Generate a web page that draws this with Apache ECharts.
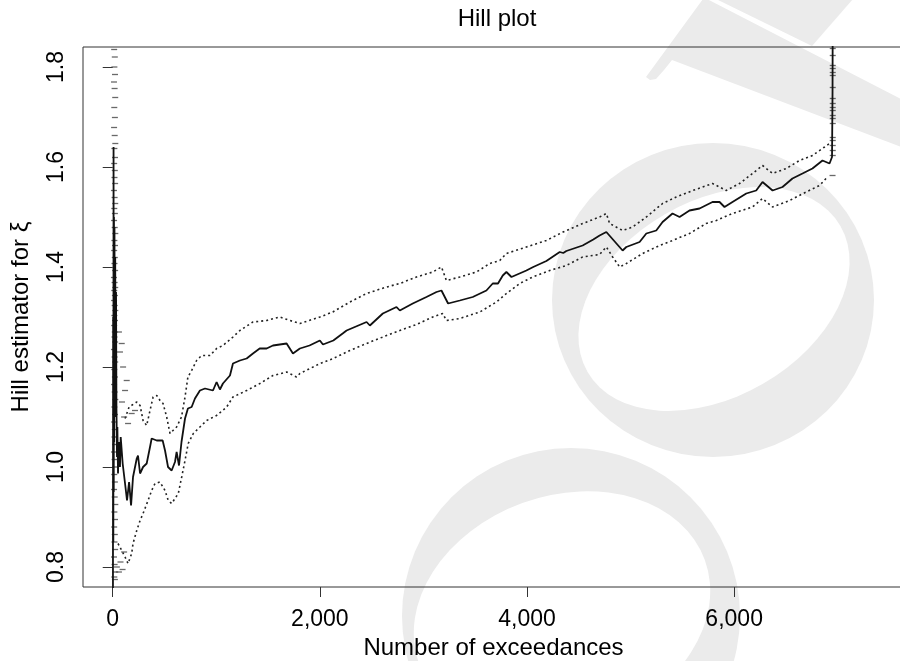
<!DOCTYPE html>
<html>
<head>
<meta charset="utf-8">
<script src="https://cdn.jsdelivr.net/npm/echarts@6/dist/echarts.min.js"></script>
<style>html,body{margin:0;padding:0;background:#fff}#c{width:900px;height:661px}</style>
</head>
<body>
<div id="c"></div>
<script>
// ---- data ----
const xTicks = [0, 2000, 4000, 6000];
const yTicks = [0.8, 1.0, 1.2, 1.4, 1.6, 1.8];

// Hill estimator (solid line): k and xi
const hillK = [2,4,6,8,10,12,14,17,20,24,28,32,36,39,41,45,51,60,70,77,96,119,138,158,177,196,232,244,264,293,328,360,376,425,482,505,534,569,601,617,640,664,698,726,762,794,842,891,968,1003,1035,1064,1132,1161,1228,1293,1354,1419,1486,1547,1679,1740,1807,1900,2000,2030,2130,2220,2258,2451,2483,2608,2740,2772,2897,3029,3126,3174,3238,3351,3476,3608,3669,3720,3766,3801,3850,3994,4060,4187,4316,4350,4380,4537,4640,4701,4766,4779,4923,4959,5087,5152,5248,5309,5405,5473,5569,5666,5791,5859,5907,5984,6117,6213,6274,6371,6467,6563,6660,6756,6853,6921,6945,6950,6955];
const hillXi = [0.70,1.30,0.85,1.64,0.95,1.50,1.05,1.48,1.10,1.42,1.15,1.35,1.12,1.123,1.02,1.08,0.987,1.05,1.00,1.06,1.007,0.967,0.933,0.97,0.923,0.98,1.017,1.023,0.987,1.0,1.007,1.04,1.057,1.053,1.053,1.033,1.0,0.993,1.01,1.03,1.003,1.05,1.097,1.117,1.12,1.137,1.153,1.157,1.153,1.17,1.155,1.167,1.183,1.207,1.213,1.217,1.227,1.237,1.237,1.243,1.247,1.227,1.237,1.243,1.253,1.245,1.253,1.267,1.273,1.29,1.283,1.307,1.32,1.313,1.327,1.34,1.35,1.353,1.327,1.333,1.34,1.353,1.367,1.367,1.383,1.39,1.38,1.393,1.40,1.412,1.43,1.428,1.432,1.443,1.455,1.463,1.47,1.473,1.433,1.44,1.45,1.467,1.473,1.49,1.507,1.50,1.513,1.517,1.53,1.53,1.52,1.53,1.547,1.553,1.57,1.553,1.56,1.577,1.587,1.597,1.613,1.607,1.62,1.75,2.2];

// upper confidence bound (dotted)
const upperK = [119,158,232,264,293,328,360,390,425,457,486,521,553,582,617,664,698,726,762,810,858,939,1003,1064,1161,1228,1354,1486,1614,1711,1807,2000,2125,2290,2451,2644,2772,2933,3090,3174,3222,3351,3512,3640,3737,3801,3994,4187,4348,4537,4701,4766,4798,4923,5020,5152,5309,5441,5601,5791,5859,5923,6052,6178,6274,6371,6503,6631,6756,6873,6921];
const upperXi = [1.097,1.12,1.13,1.123,1.093,1.083,1.113,1.14,1.143,1.133,1.127,1.10,1.067,1.073,1.08,1.10,1.14,1.18,1.193,1.213,1.223,1.223,1.237,1.243,1.26,1.273,1.29,1.293,1.30,1.293,1.287,1.30,1.31,1.33,1.347,1.36,1.367,1.38,1.39,1.40,1.373,1.38,1.39,1.407,1.413,1.427,1.44,1.453,1.47,1.487,1.50,1.507,1.487,1.473,1.48,1.50,1.527,1.54,1.553,1.567,1.56,1.553,1.567,1.587,1.603,1.587,1.597,1.613,1.623,1.64,1.647];

// lower confidence bound (dotted)
const lowerK = [51,87,119,148,183,196,232,264,293,341,376,408,456,505,536,569,601,633,666,698,729,778,842,907,1003,1100,1161,1293,1421,1547,1679,1775,1807,2003,2128,2290,2451,2608,2772,2933,3090,3187,3222,3351,3544,3705,3801,3930,4055,4219,4380,4537,4701,4766,4827,4895,4959,5116,5280,5405,5569,5730,5828,5984,6177,6274,6371,6535,6695,6824,6901];
const lowerXi = [0.847,0.833,0.82,0.807,0.827,0.847,0.873,0.893,0.907,0.933,0.953,0.967,0.97,0.953,0.933,0.927,0.937,0.947,0.98,1.013,1.047,1.067,1.08,1.093,1.103,1.12,1.14,1.153,1.167,1.183,1.19,1.18,1.187,1.207,1.217,1.233,1.247,1.26,1.273,1.285,1.30,1.307,1.293,1.297,1.31,1.33,1.347,1.367,1.38,1.393,1.403,1.42,1.425,1.44,1.42,1.40,1.407,1.427,1.443,1.453,1.467,1.487,1.493,1.507,1.52,1.537,1.52,1.533,1.55,1.563,1.58];

// stacked bound marks at the smallest k (left spike)
const spikeTickK = [14,20,16,22,12,18,24,15,21,13,19,25,16,22,14,20,17,23,12,18,24,15,21,13,19,25,16,22,14,20,17,23,12,18,24,15,21,13,19,25,16,22,14,20,17,23,12,18,24,15,21,13,19,25,16,22,14,20,17,23,12,18,24,15,21,13,19,25,16,22,14,20,17,23,12,18,24,15,21,60,70,87,90,100,110,119,135,148,183,215,40,60,75,95,110];
const spikeTickXi = [1.835,1.82,1.80,1.785,1.77,1.757,1.739,1.719,1.699,1.679,1.663,1.647,1.637,1.619,1.607,1.593,1.579,1.567,1.553,1.539,1.527,1.517,1.507,1.493,1.479,1.467,1.453,1.443,1.433,1.419,1.407,1.393,1.379,1.369,1.359,1.353,1.343,1.333,1.323,1.313,1.303,1.293,1.283,1.27,1.26,1.25,1.235,1.22,1.21,1.195,1.18,1.165,1.15,1.135,1.12,1.105,1.09,1.075,1.06,1.045,1.03,1.015,1.0,0.985,0.97,0.955,0.94,0.925,0.91,0.895,0.88,0.865,0.85,0.835,0.82,0.805,0.79,0.78,0.775,1.27,1.23,1.247,1.13,1.20,1.10,1.153,1.173,1.087,1.107,1.113,0.80,0.79,0.81,0.795,0.83];

// bound marks on the final jump
const endTickK = [6952,6952,6952,6952,6952,6952,6952,6952,6952,6952,6952,6952,6952,6952,6952,6952,6952,6952,6952,6950];
const endTickXi = [1.837,1.823,1.803,1.797,1.789,1.783,1.759,1.737,1.727,1.719,1.713,1.703,1.697,1.687,1.659,1.653,1.643,1.633,1.623,1.583];

// ---- chart ----
const zip = (a, b) => a.map((v, i) => [v, b[i]]);
const FONT = '"Liberation Sans", Arial, Helvetica, sans-serif';
const INK = '#333';
const WM = '#ebebeb';
const comma = v => String(v).replace(/\B(?=(\d{3})+(?!\d))/g, ',');

const chart = echarts.init(document.getElementById('c'), null, {renderer: 'canvas'});
chart.setOption({
  animation: false,
  backgroundColor: '#fff',
  title: {
    text: 'Hill plot', left: 492, top: 2, textAlign: 'center',
    textStyle: {fontSize: 24, fontWeight: 'normal', color: '#000', fontFamily: FONT}
  },
  graphic: {
    elements: [
      {type: 'group', x: 713, y: 300, z: -10, children: [
        {type: 'circle', z: -10, shape: {cx: 0, cy: 0, r: 100}, scaleX: 1.61, scaleY: 1.57, style: {fill: WM}}]},
      {type: 'group', x: 714, y: 299, rotation: Math.PI / 6, z: -9, children: [
        {type: 'circle', z: -9, shape: {cx: 0, cy: 0, r: 100}, scaleX: 1.46, scaleY: 0.98, style: {fill: '#fff'}}]},
      {type: 'group', x: 571, y: 616, z: -10, children: [
        {type: 'circle', z: -10, shape: {cx: 0, cy: 0, r: 100}, scaleX: 1.69, scaleY: 1.68, style: {fill: WM}}]},
      {type: 'group', x: 562, y: 612, rotation: Math.PI / 9, z: -9, children: [
        {type: 'circle', z: -9, shape: {cx: 0, cy: 0, r: 100}, scaleX: 1.52, scaleY: 1.16, style: {fill: '#fff'}}]},
      {type: 'polygon', z: -10, shape: {points: [[646,77],[703,-1],[707,-1],[901,99],[901,147],[672,60],[664,70],[656,79],[650,80]]}, style: {fill: WM}},
      {type: 'polygon', z: -10, shape: {points: [[716,-1],[853,-1],[812,46]]}, style: {fill: WM}}
    ]
  },
  grid: {left: 83, right: -4, top: 47, bottom: 74, outerBoundsMode: 'none', containLabel: false,
    show: true, borderColor: INK, borderWidth: 1, backgroundColor: 'transparent'},
  xAxis: {
    type: 'value', min: -287, max: 7640,
    axisLine: {show: false}, splitLine: {show: false},
    axisTick: {show: true, length: 10, customValues: xTicks, lineStyle: {color: INK, width: 1}},
    axisLabel: {customValues: xTicks, margin: 21, fontSize: 23, color: '#000', fontFamily: FONT, formatter: v => comma(v)},
    name: 'Number of exceedances', nameLocation: 'middle', nameGap: 48,
    nameTextStyle: {fontSize: 24, color: '#000', fontFamily: FONT}
  },
  yAxis: {
    type: 'value', min: 0.76, max: 1.84,
    axisLine: {show: false}, splitLine: {show: false},
    axisTick: {show: true, length: 10, customValues: yTicks, lineStyle: {color: INK, width: 1}},
    axisLabel: {customValues: yTicks, rotate: 90, margin: 15, fontSize: 23, color: '#000', fontFamily: FONT, formatter: v => v.toFixed(1)},
    name: 'Hill estimator for ξ', nameLocation: 'middle', nameGap: 50, nameRotate: 90,
    nameTextStyle: {fontSize: 24, color: '#000', fontFamily: FONT}
  },
  series: [
    {type: 'line', name: 'upper', data: zip(upperK, upperXi), showSymbol: false, symbol: 'none', clip: true,
      lineStyle: {color: '#222', width: 1.6, type: [2, 3]}, z: 3},
    {type: 'line', name: 'lower', data: zip(lowerK, lowerXi), showSymbol: false, symbol: 'none', clip: true,
      lineStyle: {color: '#222', width: 1.6, type: [2, 3]}, z: 3},
    {type: 'scatter', name: 'spikeMarks', data: zip(spikeTickK, spikeTickXi), symbol: 'rect', symbolSize: [6, 1.3],
      itemStyle: {color: '#444'}, clip: true, z: 3},
    {type: 'scatter', name: 'endMarks', data: zip(endTickK, endTickXi), symbol: 'rect', symbolSize: [6, 1.3],
      itemStyle: {color: '#444'}, clip: true, z: 3},
    {type: 'line', name: 'hill', data: zip(hillK, hillXi), showSymbol: false, symbol: 'none', clip: true,
      lineStyle: {color: '#111', width: 1.8}, z: 4}
  ]
});
</script>
</body>
</html>
